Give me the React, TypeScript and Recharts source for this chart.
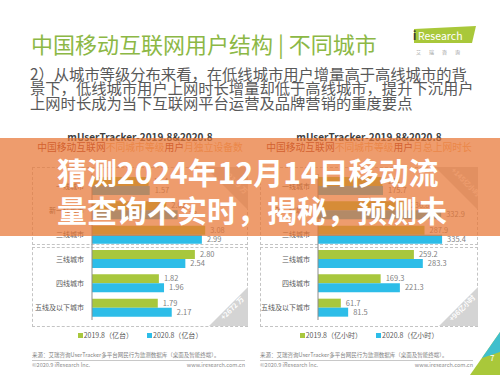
import React from 'react';
import { BarChart, Bar, XAxis, YAxis, LabelList } from 'recharts';

const cities = ['一线城市', '新一线城市', '二线城市', '三线城市', '四线城市', '五线及以下城市'];
const devices2019 = [1.54, 2.02, 3.08, 2.8, 1.82, 1.79];
const devices2020 = [1.57, 2.33, 2.99, 2.54, 1.96, 2.17];
const hours2019 = [174.1, 236.8, 287.9, 259.2, 169.3, 61.7];
const hours2020 = [175.7, 332.9, 335.4, 283.3, 221.3, 81.5];

const paragraph = [
  '2）从城市等级分布来看，在低线城市用户增量高于高线城市的背',
  '景下，低线城市用户上网时长增量却低于高线城市，提升下沉用户',
  '上网时长成为当下互联网平台运营及品牌营销的重度要点',
];
const headline = ['猜测2024年12月14日移动流', '量查询不实时，揭秘，预测未'];

const GREEN = '#a8c73d';
const CYAN = '#2dbde8';
const FONT = "'Noto Sans CJK SC', 'Noto Sans', sans-serif";

const deviceData = cities.map((city, i) => ({ city, y2019: devices2019[i], y2020: devices2020[i] }));
const hourData = cities.map((city, i) => ({ city, y2019: hours2019[i], y2020: hours2020[i] }));

const abs = (left: number, top: number, extra: React.CSSProperties = {}): React.CSSProperties => ({
  position: 'absolute',
  left,
  top,
  ...extra,
});

const CityChart = ({ data, max, yWidth, right, digits }: { data: any[]; max: number; yWidth: number; right: number; digits: number }) => (
  <BarChart
    width={yWidth === 60 ? 216 : 218}
    height={160}
    data={data}
    layout="vertical"
    barGap={0}
    barSize={9}
    margin={{ top: 9, right, bottom: 5, left: 0 }}
  >
    <XAxis type="number" hide domain={[0, max]} />
    <YAxis
      type="category"
      dataKey="city"
      width={yWidth}
      interval={0}
      tickLine={false}
      axisLine={{ stroke: '#8c8c8c' }}
      tick={{ fontSize: 7, fill: '#595959', fontFamily: FONT }}
    />
    <Bar dataKey="y2019" fill={GREEN} isAnimationActive={false}>
      <LabelList
        dataKey="y2019"
        position="right"
        offset={5}
        fill="#7f7f7f"
        fontSize={7.5}
        fontFamily={FONT}
        formatter={(v: any) => Number(v).toFixed(digits)}
      />
    </Bar>
    <Bar dataKey="y2020" fill={CYAN} isAnimationActive={false}>
      <LabelList
        dataKey="y2020"
        position="right"
        offset={5}
        fill="#7f7f7f"
        fontSize={7.5}
        fontFamily={FONT}
        formatter={(v: any) => Number(v).toFixed(digits)}
      />
    </Bar>
  </BarChart>
);

const Panel = ({
  x,
  w,
  subtitleEnd,
  legendUnit,
  topNote,
  bottomNote,
  children,
}: {
  x: number;
  w: number;
  subtitleEnd: string;
  legendUnit: string;
  topNote: string;
  bottomNote: string;
  children: React.ReactNode;
}) => {
  const boxBorder = '1px dashed #c4c4c4';
  const cx = x + w / 2;
  return (
    <>
      <div style={abs(cx - 110, 129, { width: 220, textAlign: 'center', fontSize: 10, color: '#404040', fontWeight: 700 })}>
        mUserTracker-2019.8&amp;2020.8
      </div>
      <div style={abs(cx - 115, 140, { width: 230, textAlign: 'center', fontSize: 9.8, whiteSpace: 'nowrap' })}>
        <span style={{ color: '#9c2a1c' }}>中国移动互联网</span>
        <span style={{ color: '#f2b27a' }}>不同城市等级</span>
        <span style={{ color: '#9c2a1c' }}>用户</span>
        <span style={{ color: '#f2b27a' }}>{subtitleEnd}</span>
      </div>
      <div style={abs(x, 167, { width: w - 2, height: 76, border: boxBorder })} />
      <div style={abs(x, 247, { width: w - 2, height: 78, border: boxBorder })} />
      <svg style={abs(x, 160, { overflow: 'visible' })} width={w} height={170}>
        <polygon points={`${w - 43},7 ${w},7 ${w},50`} fill="#d4d4d4" />
        <text
          x={w - 14}
          y={24}
          transform={`rotate(45 ${w - 14} 24)`}
          textAnchor="middle"
          fontSize={7}
          fill="#fff"
          fontWeight={700}
        >
          {topNote}
        </text>
        <polygon points={`${w - 39},166 ${w},166 ${w},127`} fill="#d4d4d4" />
        <text
          x={w - 14}
          y={150}
          transform={`rotate(-45 ${w - 14} 150)`}
          textAnchor="middle"
          fontSize={7}
          fill="#fff"
          fontWeight={700}
        >
          {bottomNote}
        </text>
      </svg>
      <div style={abs(x, 165)}>{children}</div>
      <div style={abs(x, 330, { width: w, display: 'flex', justifyContent: 'center', gap: 14, fontSize: 7, color: '#595959' })}>
        <span>
          <span style={{ display: 'inline-block', width: 5, height: 5, background: GREEN, marginRight: 1 }} />
          2019.8（{legendUnit}）
        </span>
        <span>
          <span style={{ display: 'inline-block', width: 5, height: 5, background: CYAN, marginRight: 1 }} />
          2020.8（{legendUnit}）
        </span>
      </div>
      <div style={abs(x, 351, { fontSize: 5.5, color: '#7f7f7f', whiteSpace: 'nowrap' })}>
        来源：艾瑞咨询UserTracker多平台网民行为监测数据库（桌面及智能终端）。
      </div>
      <div style={abs(x, 360, { width: 213, height: 1, background: '#c8c8c8' })} />
      <div style={abs(x, 361, { width: 213, display: 'flex', justifyContent: 'space-between', fontSize: 5.5, color: '#8c8c8c' })}>
        <span>©2020.9 iResearch Inc.</span>
        <span>www.iresearch.com.cn</span>
      </div>
    </>
  );
};

export default function App() {
  return (
    <div
      style={{
        position: 'absolute',
        left: 0,
        top: 0,
        width: 500,
        height: 375,
        overflow: 'hidden',
        background: '#fff',
        fontFamily: FONT,
      }}
    >
      {/* slide header */}
      <div style={abs(31, 28, { fontSize: 22, lineHeight: '30px', color: '#8cb845', whiteSpace: 'nowrap' })}>
        中国移动互联网用户结构 | 不同城市
      </div>
      <svg style={abs(408, 26)} width={72} height={32}>
        <polygon points="6,3 68,0 64,17 6,17" fill="#a9c83a" />
        <text x={5} y={14} fontSize={11} fill="#3a3a3a" fontWeight={700}>i</text>
        <text x={10} y={14} fontSize={10.5} fill="#fff">Research</text>
        <text x={8} y={28} fontSize={5} fill="#9a9a9a" letterSpacing={8}>艾瑞咨询</text>
      </svg>
      <div style={abs(30, 66, { fontSize: 15.3, lineHeight: '14.3px', color: '#595959', whiteSpace: 'nowrap' })}>
        {paragraph.map((line) => (
          <div key={line}>{line}</div>
        ))}
      </div>

      <Panel x={32} w={216} subtitleEnd="月独立设备数" legendUnit="亿台" topNote="+2399 万" bottomNote="+2672 万">
        <CityChart data={deviceData} max={4} yWidth={60} right={9} digits={2} />
      </Panel>
      <Panel x={260} w={218} subtitleEnd="月总上网时长" legendUnit="亿小时" topNote="+145亿小时" bottomNote="+96亿小时">
        <CityChart data={hourData} max={400} yWidth={58} right={12} digits={1} />
      </Panel>

      {/* page corner */}
      <svg style={abs(462, 328)} width={38} height={47}>
        <polygon points="38,4 38,47 8,47" fill="#a9c83a" />
        <polygon points="38,4 20,30 38,24" fill="#2dbde8" opacity={0.85} />
        <text x={28} y={33} fontSize={8} fill="#fff">7</text>
      </svg>

      {/* overlay band with headline */}
      <div style={abs(0, 138, { width: 500, height: 98, background: 'rgba(232,118,52,0.72)' })} />
      <div
        style={abs(57, 152, {
          fontSize: 30,
          lineHeight: '38px',
          fontWeight: 700,
          color: '#fff',
          whiteSpace: 'nowrap',
        })}
      >
        {headline.map((line) => (
          <div key={line}>{line}</div>
        ))}
      </div>
    </div>
  );
}
